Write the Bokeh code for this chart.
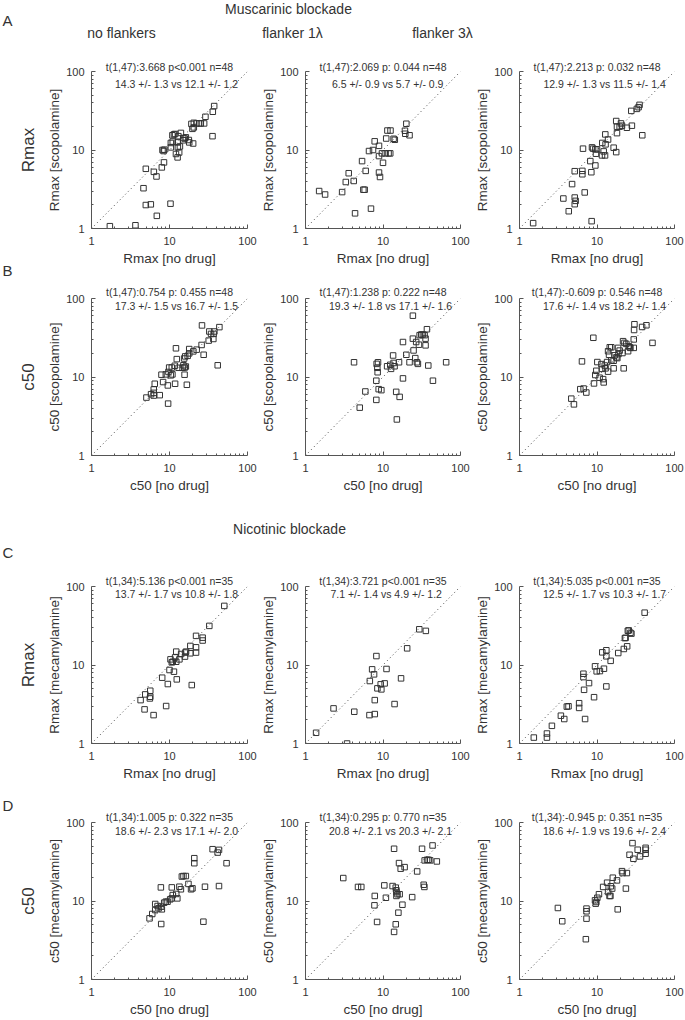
import math
from bokeh.plotting import figure
from bokeh.layouts import column, row
from bokeh.models import Range1d, Label, FixedTicker, PrintfTickFormatter, Title
from bokeh.embed import file_html
from bokeh.resources import INLINE

# ---------------- data ----------------
AX_MIN, AX_MAX = 1, 100
MAJOR_TICKS = [1, 10, 100]
MINOR_TICKS = [2, 3, 4, 5, 6, 7, 8, 9, 20, 30, 40, 50, 60, 70, 80, 90]
DIAG = [1, 100]

TITLE_TOP = "Muscarinic blockade"
TITLE_MID = "Nicotinic blockade"
COL_TITLES = ["no flankers", "flanker 1\u03bb", "flanker 3\u03bb"]
ROW_LETTERS = ["A", "B", "C", "D"]
ROW_NAMES = ["Rmax", "c50", "Rmax", "c50"]
X_LABELS = ["Rmax [no drug]", "c50 [no drug]", "Rmax [no drug]", "c50 [no drug]"]
Y_LABELS = ["Rmax [scopolamine]", "c50 [scopolamine]", "Rmax [mecamylamine]", "c50 [mecamylamine]"]

STATS1 = [
    ["t(1,47):3.668 p<0.001 n=48", "t(1,47):2.069 p: 0.044 n=48", "t(1,47):2.213 p: 0.032 n=48"],
    ["t(1,47):0.754 p: 0.455 n=48", "t(1,47):1.238 p: 0.222 n=48", "t(1,47):-0.609 p: 0.546 n=48"],
    ["t(1,34):5.136 p<0.001 n=35", "t(1,34):3.721 p<0.001 n=35", "t(1,34):5.035 p<0.001 n=35"],
    ["t(1,34):1.005 p: 0.322 n=35", "t(1,34):0.295 p: 0.770 n=35", "t(1,34):-0.945 p: 0.351 n=35"],
]
STATS2 = [
    ["14.3 +/-  1.3 vs 12.1 +/-  1.2", " 6.5 +/-  0.9 vs  5.7 +/-  0.9", "12.9 +/-  1.3 vs 11.5 +/-  1.4"],
    ["17.3 +/-  1.5 vs 16.7 +/-  1.5", "19.3 +/-  1.8 vs 17.1 +/-  1.6", "17.6 +/-  1.4 vs 18.2 +/-  1.4"],
    ["13.7 +/-  1.7 vs 10.8 +/-  1.8", " 7.1 +/-  1.4 vs   4.9 +/-  1.2", "12.5 +/-  1.7 vs 10.3 +/-  1.7"],
    ["18.6 +/-  2.3 vs 17.1 +/-  2.0", "20.8 +/-  2.1 vs 20.3 +/-  2.1", "18.6 +/-  1.9 vs 19.6 +/-  2.4"],
]

A1_x = [1.72, 3.66, 4.64, 4.97, 4.97, 5.76, 6.3, 6.81, 6.88, 7.97, 8.13, 8.4, 8.5, 10.3, 10.4, 10.4, 10.9, 11.8, 12.1, 12.7, 12.7, 12.8, 13.0, 13.3, 13.6, 14.0, 15.0, 15.7, 16.2, 17.7, 17.9, 19.1, 19.7, 20.1, 20.5, 24.0, 25.2, 27.8, 28.9, 35.6, 35.9, 37.4, 20.5, 22.2, 11.0, 15.0, 8.6, 11.4]
A1_y = [1.07, 1.10, 3.26, 5.76, 1.99, 2.03, 5.27, 4.6, 1.45, 6.0, 10.0, 9.7, 6.95, 2.07, 10.8, 12.3, 15.4, 16.0, 8.9, 8.05, 12.5, 10.8, 15.0, 9.3, 11.1, 16.5, 13.3, 14.0, 14.5, 13.4, 12.5, 21.5, 18.6, 12.1, 22.2, 21.8, 21.8, 21.8, 26.5, 15.0, 30.7, 36.3, 19.4, 21.8, 12.8, 14.2, 10.1, 15.8]

A2_x = [1.5, 1.79, 2.97, 3.31, 3.61, 4.19, 4.36, 5.37, 5.58, 5.8, 5.98, 6.6, 7.0, 7.43, 7.81, 8.88, 8.88, 8.88, 9.15, 10.0, 10.8, 11.0, 11.4, 12.4, 12.5, 13.7, 14.2, 19.2, 19.4, 20.0, 22.0, 9.7, 11.8]
A2_y = [3.0, 2.71, 2.91, 3.91, 5.06, 4.03, 1.56, 7.22, 3.12, 3.12, 5.42, 9.7, 1.79, 10.0, 12.9, 11.3, 8.37, 5.16, 4.53, 6.87, 9.06, 14.0, 17.7, 9.06, 17.7, 13.9, 13.5, 17.6, 16.1, 21.6, 15.4, 9.06, 9.06]

A3_x = [1.5, 3.68, 4.32, 4.77, 5.16, 5.16, 5.16, 5.3, 6.47, 6.47, 6.6, 6.94, 8.2, 8.45, 8.53, 8.62, 8.9, 9.52, 9.52, 9.7, 10.0, 11.6, 11.7, 12.2, 12.7, 12.9, 12.8, 13.9, 16.4, 17.7, 17.7, 18.1, 18.1, 19.6, 20.4, 21.0, 24.3, 28.2, 27.7, 32.7, 34.4, 35.4, 38.4]
A3_y = [1.17, 2.41, 1.66, 3.68, 5.37, 2.48, 2.04, 2.25, 5.42, 4.91, 10.4, 2.88, 7.22, 5.21, 1.24, 10.8, 10.4, 10.2, 6.35, 8.97, 10.2, 8.53, 12.3, 9.6, 8.53, 11.8, 15.8, 13.6, 10.7, 9.4, 23.4, 16.4, 19.8, 19.8, 21.8, 20.4, 19.2, 20.4, 31.5, 33.4, 35.1, 37.6, 15.4]

B1_x = [5.06, 5.8, 6.28, 6.28, 6.28, 6.47, 7.5, 7.89, 8.28, 8.97, 9.6, 9.52, 9.7, 9.9, 10.4, 10.7, 10.9, 11.7, 11.8, 12.1, 12.4, 13.1, 14.7, 15.1, 15.4, 15.6, 15.7, 15.9, 16.2, 16.7, 17.1, 17.9, 17.9, 20.2, 22.3, 25.8, 26.1, 27.4, 31.8, 32.4, 34.1, 36.5, 36.8, 37.6, 41.5, 43.6]
B1_y = [5.47, 6.04, 5.8, 6.28, 6.94, 8.2, 5.87, 10.7, 8.62, 10.8, 4.58, 7.81, 11.6, 13.2, 10.5, 13.2, 10.8, 13.9, 8.2, 23.2, 16.9, 13.1, 13.1, 14.1, 17.2, 10.7, 13.2, 18.3, 13.6, 7.96, 18.6, 20.0, 22.7, 21.2, 22.3, 25.6, 45.4, 19.2, 29.1, 38.0, 35.4, 30.5, 35.4, 38.0, 14.1, 43.2]

B2_x = [4.23, 5.01, 5.92, 8.2, 8.2, 8.28, 8.45, 8.53, 8.62, 8.79, 9.52, 11.3, 12.4, 12.7, 13.5, 13.7, 14.1, 14.8, 15.1, 16.1, 16.4, 18.1, 18.1, 20.0, 22.0, 24.3, 24.3, 24.8, 26.1, 26.8, 27.4, 28.2, 29.1, 29.7, 31.2, 32.7, 34.4, 35.4, 35.4, 36.9, 38.4, 44.1, 65.3]
B2_y = [15.4, 4.07, 6.54, 5.11, 8.97, 14.7, 13.1, 11.5, 15.4, 7.0, 6.8, 13.7, 14.3, 12.7, 18.8, 15.1, 13.7, 6.47, 2.88, 15.4, 5.58, 9.6, 27.9, 19.2, 15.4, 30.8, 60.4, 21.8, 17.4, 27.9, 15.4, 14.7, 25.8, 34.1, 34.8, 34.8, 34.1, 30.8, 25.3, 40.6, 14.0, 8.97, 15.4]

B3_x = [4.66, 5.04, 6.09, 6.4, 6.72, 7.28, 8.97, 9.15, 9.5, 9.8, 10.1, 10.8, 11.4, 11.6, 12.0, 12.2, 12.6, 12.9, 13.5, 13.9, 13.9, 14.3, 14.6, 15.3, 15.3, 16.4, 16.4, 16.9, 17.8, 18.3, 18.7, 18.9, 19.6, 21.3, 21.7, 22.1, 22.6, 23.9, 25.2, 25.7, 26.4, 27.0, 29.8, 29.8, 30.1, 30.4, 38.2, 43.4, 52.0]
B3_y = [5.3, 4.48, 7.0, 15.8, 7.13, 6.34, 31.6, 8.28, 10.6, 12.0, 15.5, 9.8, 14.6, 12.7, 9.4, 8.53, 14.0, 12.9, 15.5, 11.7, 21.3, 19.2, 23.9, 23.9, 16.3, 12.9, 16.1, 18.9, 17.8, 17.4, 23.5, 19.6, 21.7, 20.2, 28.6, 12.9, 27.2, 26.4, 21.3, 24.7, 23.9, 23.5, 23.5, 30.1, 39.7, 47.0, 43.4, 45.6, 27.2]

C1_x = [4.26, 4.89, 4.79, 5.67, 5.67, 5.6, 6.25, 8.06, 9.06, 9.52, 10.0, 10.3, 11.0, 11.4, 11.8, 12.2, 12.2, 12.4, 13.4, 15.8, 16.0, 16.3, 18.5, 18.5, 19.3, 21.9, 21.9, 21.9, 26.6, 26.6, 32.4, 50.4, 14.1, 10.7]
C1_y = [3.57, 4.22, 2.72, 4.7, 3.94, 3.75, 2.3, 6.89, 3.0, 5.72, 8.63, 11.8, 11.0, 8.22, 12.5, 14.8, 11.0, 6.56, 11.8, 12.8, 14.4, 14.8, 17.5, 14.1, 5.55, 23.5, 16.8, 14.4, 22.3, 20.5, 31.5, 56.6, 13.8, 10.8]

C2_x = [1.37, 2.3, 3.44, 4.26, 6.69, 6.76, 7.24, 7.67, 7.83, 7.83, 8.22, 8.47, 9.34, 9.52, 10.5, 11.1, 14.1, 17.1, 20.5, 29.4, 35.7]
C2_y = [1.37, 2.8, 1.0, 2.54, 2.3, 6.25, 8.8, 7.6, 3.57, 2.37, 13.0, 5.04, 5.67, 4.89, 5.83, 8.9, 3.18, 6.76, 16.3, 28.5, 27.2]

C3_x = [1.53, 2.26, 2.26, 2.62, 3.42, 3.78, 4.08, 4.29, 5.88, 5.88, 6.68, 6.68, 6.81, 7.02, 7.89, 9.16, 9.43, 9.9, 10.9, 12.3, 11.7, 13.2, 13.2, 13.2, 15.0, 18.8, 22.2, 22.9, 23.4, 24.5, 25.0, 25.7, 27.0, 27.8, 41.2]
C3_y = [1.19, 1.34, 1.19, 1.68, 2.26, 2.05, 2.95, 2.98, 3.26, 2.84, 7.74, 7.02, 4.83, 2.05, 5.88, 3.89, 9.62, 8.3, 8.37, 8.97, 14.5, 15.4, 12.9, 5.33, 11.3, 14.2, 16.0, 22.0, 22.2, 17.3, 27.3, 27.6, 25.7, 25.1, 46.4]

D1_x = [5.55, 6.01, 6.56, 6.56, 7.03, 7.24, 7.83, 7.83, 7.75, 7.98, 8.55, 8.97, 9.43, 10.2, 10.7, 10.7, 11.0, 12.2, 12.6, 13.4, 14.0, 14.4, 15.1, 16.2, 17.5, 18.9, 19.7, 20.8, 20.8, 27.2, 28.5, 35.7, 41.4, 43.1, 43.1, 53.9]
D1_y = [6.01, 6.83, 7.67, 9.16, 8.63, 8.06, 8.47, 5.09, 14.9, 7.83, 9.52, 9.8, 9.8, 10.5, 10.8, 14.9, 11.9, 12.3, 10.8, 15.2, 14.1, 20.5, 20.8, 20.8, 16.5, 14.1, 14.5, 35.1, 30.3, 5.45, 15.2, 45.7, 41.4, 44.8, 15.5, 30.3]

D2_x = [3.07, 4.76, 5.25, 7.76, 7.83, 8.39, 10.4, 10.9, 13.3, 13.9, 13.9, 14.6, 14.6, 14.9, 14.9, 14.9, 15.4, 15.8, 16.1, 16.4, 16.9, 17.8, 19.0, 23.8, 27.6, 31.9, 33.5, 34.2, 34.5, 37.0, 38.8, 40.7, 43.6, 49.5]
D2_y = [19.6, 15.1, 15.1, 8.81, 11.6, 5.41, 15.8, 11.0, 15.5, 46.3, 4.04, 5.05, 14.8, 13.7, 11.6, 13.0, 12.2, 7.1, 30.4, 12.2, 25.8, 8.97, 27.0, 11.2, 23.8, 46.3, 16.1, 15.1, 32.9, 33.5, 33.5, 32.9, 51.0, 31.9]

D3_x = [3.13, 3.56, 7.18, 7.32, 7.32, 7.32, 9.43, 9.62, 9.81, 10.1, 10.6, 12.0, 13.5, 13.9, 14.5, 14.9, 15.1, 15.7, 16.0, 18.1, 18.5, 21.0, 21.4, 23.6, 24.3, 26.3, 28.7, 29.5, 33.5, 35.9, 42.4, 42.4, 42.4]
D3_y = [8.15, 5.52, 3.26, 5.96, 8.0, 7.39, 10.2, 9.25, 9.71, 11.0, 12.2, 15.1, 17.1, 13.0, 11.6, 11.6, 15.4, 14.4, 19.8, 18.3, 7.83, 24.0, 22.7, 14.4, 22.7, 38.8, 54.6, 34.5, 45.0, 37.0, 47.6, 45.0, 40.0]

PANELS = [
    [(A1_x, A1_y), (A2_x, A2_y), (A3_x, A3_y)],
    [(B1_x, B1_y), (B2_x, B2_y), (B3_x, B3_y)],
    [(C1_x, C1_y), (C2_x, C2_y), (C3_x, C3_y)],
    [(D1_x, D1_y), (D2_x, D2_y), (D3_x, D3_y)],
]

# ---------------- style / layout ----------------
FONT = "Liberation Sans"
TXT = "#333333"
AXC = "#555555"
MK = "#333333"
STRIP_W = 44
FW, FH = 156, 157
COLS = [dict(w=214, bl=47, br=11), dict(w=214, bl=46, br=12), dict(w=212, bl=46, br=10)]
W = sum(c["w"] for c in COLS)
H1, H2 = 50, 68
ROWS = [dict(h=232, bt=21, bb=54, st=-3, s2=-12),
        dict(h=218, bt=16, bb=45, st=2, s2=-7),
        dict(h=222, bt=18, bb=47, st=0, s2=-7),
        dict(h=229, bt=32, bb=40, st=0, s2=-8)]
TOTAL_H = H1 + H2 + sum(r["h"] for r in ROWS)


def text_fig(width, height, items):
    p = figure(width=width, height=height, x_range=Range1d(0, width), y_range=Range1d(height, 0),
               x_axis_location=None, y_axis_location=None, min_border=0,
               output_backend="svg", toolbar_location=None)
    p.outline_line_color = None
    p.grid.visible = False
    for (txt, x, y, size, align, ang) in items:
        p.add_layout(Label(x=x, y=y, text=txt, text_align=align, text_baseline="middle",
                           angle=ang, text_font_size=size, text_color=TXT, text_font=FONT))
    return p


def panel(r, c):
    xs, ys = PANELS[r][c]
    cc, rr = COLS[c], ROWS[r]
    p = figure(width=cc["w"], height=rr["h"], x_axis_type="log", y_axis_type="log",
               x_range=Range1d(AX_MIN, AX_MAX), y_range=Range1d(AX_MIN, AX_MAX),
               min_border_left=cc["bl"], min_border_right=cc["br"],
               min_border_top=rr["bt"], min_border_bottom=rr["bb"],
               output_backend="svg", toolbar_location=None)
    p.outline_line_color = None
    p.grid.visible = False
    p.background_fill_color = "white"
    p.border_fill_color = "white"
    for ax in (p.xaxis[0], p.yaxis[0]):
        ax.ticker = FixedTicker(ticks=MAJOR_TICKS, minor_ticks=MINOR_TICKS)
        ax.formatter = PrintfTickFormatter(format="%d")
        ax.axis_line_color = AXC
        ax.major_tick_line_color = AXC
        ax.minor_tick_line_color = AXC
        ax.major_tick_in = 4
        ax.major_tick_out = 0
        ax.minor_tick_in = 2
        ax.minor_tick_out = 0
        ax.major_label_text_font = FONT
        ax.major_label_text_font_size = "11px"
        ax.major_label_text_color = TXT
        ax.axis_label_text_font = FONT
        ax.axis_label_text_font_size = "13.5px"
        ax.axis_label_text_font_style = "normal"
        ax.axis_label_text_color = TXT
    p.xaxis.axis_label = X_LABELS[r]
    p.yaxis.axis_label = Y_LABELS[r]
    p.yaxis.major_label_standoff = 7
    p.yaxis.axis_label_standoff = 1
    p.xaxis.major_label_standoff = 8
    p.xaxis.axis_label_standoff = 3

    p.line(DIAG, DIAG, line_dash="1 3", line_color="#444444", line_width=1)
    p.scatter(xs, ys, marker="square", size=5.5, fill_color=None, line_color=MK, line_width=1)

    p.title = Title(text=STATS1[r][c], align="center", offset=10, standoff=rr["st"],
                    text_font=FONT, text_font_size="10.5px", text_font_style="normal",
                    text_color=TXT)
    p.add_layout(Label(x=FW / 2 + 10, y=FH + rr["s2"], x_units="screen", y_units="screen",
                       text=STATS2[r][c], text_align="center", text_baseline="middle",
                       text_font=FONT, text_font_size="10.5px", text_color=TXT))
    return p


# strip: row names (rotated) and panel letters, in page pixels
row_tops = [H1, H1 + ROWS[0]["h"], H1 + ROWS[0]["h"] + ROWS[1]["h"] + H2,
            H1 + ROWS[0]["h"] + ROWS[1]["h"] + H2 + ROWS[2]["h"]]
items = []
for i in range(4):
    fc = row_tops[i] + ROWS[i]["bt"] + FH / 2
    items.append((ROW_NAMES[i], 28, fc, "17px", "center", math.pi / 2))
items += [(ROW_LETTERS[0], 2, 20, "15px", "left", 0),
          (ROW_LETTERS[1], 2, 270, "15px", "left", 0),
          (ROW_LETTERS[2], 2, 552, "15px", "left", 0),
          (ROW_LETTERS[3], 2, 805, "15px", "left", 0)]
strip = text_fig(STRIP_W, TOTAL_H, items)

h1 = text_fig(W, H1, [
    (TITLE_TOP, 288 - STRIP_W, 8, "14px", "center", 0),
    (COL_TITLES[0], 121 - STRIP_W, 32, "14px", "center", 0),
    (COL_TITLES[1], 292 - STRIP_W, 32, "14px", "center", 0),
    (COL_TITLES[2], 442 - STRIP_W, 32, "14px", "center", 0),
])
h2 = text_fig(W, H2, [
    (TITLE_MID, 289 - STRIP_W, 28, "14px", "center", 0),
])

rows = [row(*[panel(r, c) for c in range(3)]) for r in range(4)]
layout = row(strip, column(h1, rows[0], rows[1], h2, rows[2], rows[3]))

open("out.html", "w").write(file_html(layout, INLINE))
